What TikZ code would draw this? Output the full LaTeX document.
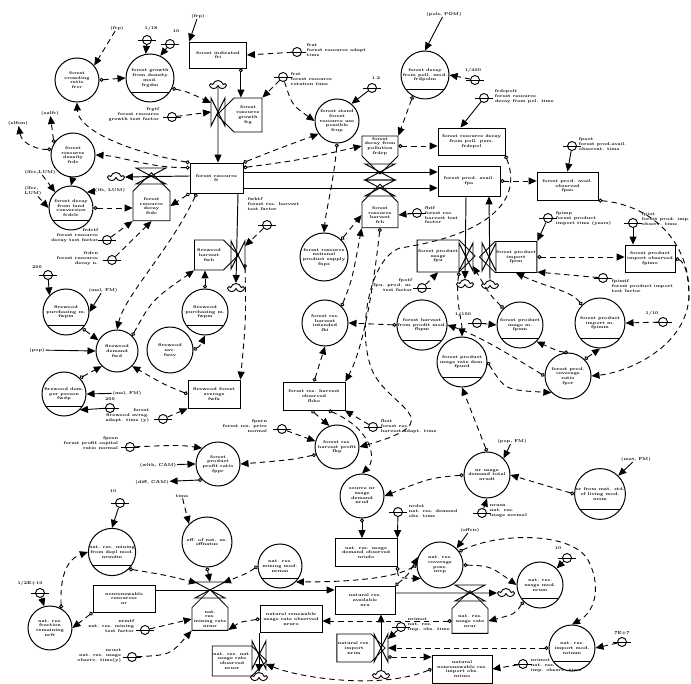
\documentclass[tikz,border=0pt]{standalone}
\usetikzlibrary{arrows.meta,shapes.symbols,shapes.geometric}
\newcommand{\sdfont}{\fontsize{4.2}{4.7}\selectfont\bfseries}
\begin{document}
\begin{tikzpicture}[x=1pt,y=-1pt,line width=0.9pt,
  aux/.style={circle,draw,line width=1.0pt,minimum size=#1,inner sep=0pt,align=center,font=\sdfont},
  aux/.default=46pt,
  tab/.style={aux=#1,path picture={\draw[line width=0.9pt]
      ([yshift=10pt]path picture bounding box.south west) -- ([yshift=10pt]path picture bounding box.south east);}},
  tab/.default=46pt,
  lev/.style={draw,rectangle,line width=0.8pt,align=center,font=\sdfont,inner sep=1pt},
  rate/.style={draw,signal,signal to=#1,line width=0.85pt,align=center,font=\sdfont,inner sep=1pt},
  con/.style={circle,draw,line width=0.9pt,minimum size=9pt,inner sep=0pt,
     append after command={([xshift=-4pt]\tikzlastnode.west) edge[line width=0.8pt,-] ([xshift=4pt]\tikzlastnode.east)}},
  ext/.style={font=\sdfont,inner sep=0.5pt},
  lblL/.style={ext,align=left,anchor=north west},
  lblR/.style={ext,align=right,anchor=north east},
  puff/.style={cloud,cloud puffs=5,draw,line width=0.9pt,minimum width=15pt,minimum height=9pt,inner sep=0pt},
  bigtip/.tip={Triangle[length=8pt,width=7pt]},
  opentip/.tip={Circle[open,length=4pt,width=4pt]},
  info/.style={dash pattern=on 5.5pt off 4pt,line width=0.9pt,-bigtip},
  infos/.style={info,opentip-bigtip},
  infoj/.style={dash pattern=on 5.5pt off 4pt,line width=0.9pt,opentip-},
  cin/.style={line width=0.9pt,-bigtip},
  cins/.style={line width=0.9pt,opentip-bigtip},
  flow/.style={line width=0.95pt,-bigtip},
  vlv/.style={line width=0.95pt,line join=miter},
  valveV/.pic={
    \draw[vlv] (-7,-14) -- (-7,14) -- (7,-14) -- (7,14) -- cycle;
    \coordinate (-c) at (0,0);
    \coordinate (-t) at (0,-14);
    \coordinate (-b) at (0,14);
    \coordinate (-l) at (-7,0);
    \coordinate (-r) at (7,0);
    \coordinate (-tl) at (-7,-9);
    \coordinate (-tr) at (7,-9);
    \coordinate (-bl) at (-7,9);
    \coordinate (-br) at (7,9);
  },
  valveH/.pic={
    \draw[vlv] (-15,-8) -- (15,-8) -- (-15,8) -- (15,8) -- cycle;
    \coordinate (-c) at (0,0);
    \coordinate (-t) at (0,-8);
    \coordinate (-b) at (0,8);
    \coordinate (-l) at (-9,0);
    \coordinate (-r) at (9,0);
    \coordinate (-tl) at (-13,-7);
    \coordinate (-tr) at (13,-7);
    \coordinate (-bl) at (-13,7);
    \coordinate (-br) at (13,7);
  }]
\useasboundingbox (0,0) rectangle (691,684);

% ================= forest resource sector =================
\node[ext] (frpA) at (117,28) {(frp)};
\node[aux=44pt] (frcr) at (77,80) {forest\\crowding\\ratio\\frcr};
\node[tab=48pt] (frgdm) at (150,78) {forest growth\\from density\\mod.\\frgdm};
\node[con] (k118) at (147,40) {};
\node[ext] (l118) at (151,28) {1/18};
\node[con] (k10a) at (170,44) {};
\node[ext] (l10a) at (176,31) {10};
\node[ext] (frpB) at (198,16) {(frp)};
\node[lev,minimum width=57pt,minimum height=26pt] (fri) at (218,55) {forest indicated\\fri};
\node[con] (kfrat) at (297,52) {};
\node[lblL] (lfrat) at (306,43) {frat\\forest resource adapt\\time};
\node[puff] (cl1) at (218,85) {};
\pic (vfrg) at (218,112) {valveV};
\node[rate=west,minimum width=45pt,minimum height=34pt] (frg) at (248,115) {forest\\resource\\growth\\frg};
\node[con] (kfrgtf) at (172,117) {};
\node[lblR] (lfrgtf) at (160,107) {frgtf\\forest resource\\growth test factor};
\node[con] (kfrst) at (283,77) {};
\node[lblL] (lfrst) at (290,72) {frst\\forest resource\\rotation time};
\node[aux=44pt] (frup) at (337,121) {forest stand\\forest\\resource use\\possible\\frup};
\node[con] (k12) at (372,88) {};
\node[ext] (l12) at (376,78) {1.2};
\node[ext] (pols) at (444,14) {(pols, POM)};
\node[tab=48pt] (frdpolm) at (425,75) {forest decay\\from poll. mod.\\frdpolm};
\node[con] (k1400) at (475,80) {};
\node[ext] (l1400) at (473,70) {1/400};
\node[con] (kfrdcpolt) at (484,98) {};
\node[lblL] (lfrdcpolt) at (494,89) {frdcpolt\\forest resource\\decay from pol. time};
\node[lev,minimum width=67pt,minimum height=27pt] (frdcpol) at (471.5,141.5) {forest resource decay\\from poll. pers.\\frdcpol};
\node[rate=south,minimum width=36pt,minimum height=36pt] (frdcp) at (380,146) {forest\\decay from\\pollution\\frdcp};
\node[lev,minimum width=53pt,minimum height=30pt] (fr) at (216.5,178) {forest resource\\fr};
\pic (vfrdcp) at (380,172) {valveH};
\pic (vfrh) at (380,188) {valveH};
\node[rate=north,minimum width=36pt,minimum height=38pt] (frh) at (380,215) {forest\\resource\\harvest\\frh};
\node[con] (kfhtf) at (417,213) {};
\node[lblL] (lfhtf) at (424,206) {fhtf\\forest res.\\harvest test\\factor};
\node[aux=48pt] (fnps) at (324,257) {forest resource\\national\\product supply\\fnps};
\node[lev,minimum width=62pt,minimum height=30pt] (fpa) at (469,181) {forest prod. avail.\\fpa};
\node[lev,minimum width=61pt,minimum height=28pt] (fpao) at (567.5,186) {forest prod. avail.\\observed\\fpao};
\node[con] (kfpaot) at (572,146) {};
\node[lblL] (lfpaot) at (578,137) {fpaot\\forest prod.avail.\\observat. time};

% product usage and import
\node[rate=east,minimum width=46pt,minimum height=32pt] (fpu) at (438,256) {forest product\\usage\\fpu};
\pic (vfpu) at (466,257) {valveV};
\node[puff] (clA) at (465,284) {};
\node[rate=west,minimum width=44pt,minimum height=31pt] (fpim) at (516,257) {forest product\\import\\fpim};
\pic (vfpim) at (489,257) {valveV};
\node[puff] (clB) at (490,285) {};
\node[con] (kfpimp) at (548,218) {};
\node[lblL] (lfpimp) at (555,211) {fpimp\\forest product\\import time (years)};
\node[con] (kfpiot) at (633,223) {};
\node[lblL] (lfpiot) at (641,212) {fpiot\\forest prod. imp.\\observ. time};
\node[lev,minimum width=50pt,minimum height=27pt] (fpimo) at (650,258.5) {forest product\\import observed\\fpimo};
\node[con] (kfpimtf) at (603,278) {};
\node[lblL] (lfpimtf) at (611,279) {fpimtf\\forest product import\\test factor};
\node[tab=50pt] (fpimm) at (600,323) {forest product\\import m.\\fpimm};
\node[con] (k110) at (663,322) {};
\node[ext] (l110) at (652,313) {1/10};
\node[tab=46pt] (fpum) at (520,325) {forest product\\usage m.\\fpum};
\node[con] (k1100) at (477,323) {};
\node[ext] (l1100) at (463,314) {1/100};
\node[tab=50pt] (fpurd) at (462,362) {forest product\\usage rate dem.\\fpurd};
\node[aux=46pt] (fpcr) at (568,376) {forest prod.\\coverage\\ratio\\fpcr};
\node[tab=48pt] (fhpm) at (422,325) {forest harvest\\from prodit mod.\\fhpm};
\node[con] (kfpotf) at (422,288) {};
\node[lblR] (lfpotf) at (413,278) {fpotf\\fpu. prod. m.\\test factor};
\node[aux=46pt] (fhi) at (325,323) {forest res.\\harvest\\intended\\fhi};
\node[lev,minimum width=62pt,minimum height=28pt] (fhho) at (314,396) {forest res. harvest\\observed\\fhho};
\node[aux=44pt] (fhp) at (337,447) {forest res.\\harvest profit\\fhp};
\node[con] (kfpnrn) at (282,429) {};
\node[lblR] (lfpnrn) at (268,419) {fpnrn\\forest res. price\\normal};
\node[con] (kfhat) at (373,427) {};
\node[lblL] (lfhat) at (380,419) {fhat\\forest res.\\harvest adapt. time};
\node[aux=44pt] (nrud) at (362,496) {source nr\\usage\\demand\\nrud};
\node[aux=46pt] (nrudt) at (487,475) {nr usage\\demand total\\nrudt};
\node[ext] (popfm) at (512,441) {(pop, FM)};
\node[tab=50pt] (nrsm) at (600,494) {nr from mat. std.\\of living mod.\\nrsm};
\node[ext] (matfm) at (636,459) {(mat, FM)};
\node[con] (knrusn) at (482,513) {};
\node[lblL] (lnrusn) at (489,504) {nrusn\\nat. res.\\usage normal};
\node[con] (knrdot) at (398,512) {};
\node[lblL] (lnrdot) at (408,504) {nrdot\\nat. res. demand\\obs. time};

% density, decay and firewood
\node[aux=44pt] (frdc) at (73,155) {forest\\resource\\density\\frdc};
\node[ext] (elfcm) at (18,123) {(elfcm)};
\node[ext] (ealfc) at (50,113) {(ealfc)};
\node[tab=44pt] (frdclc) at (71,208) {forest decay\\from land\\conversion\\frdclc};
\node[ext] (lfcc) at (40,172) {(lfcc,LUM)};
\node[ext,align=left] (bfcc) at (33,191) {(lfcc,\\LUM)};
\node[ext] (lfc) at (110,190) {(lfc, LUM)};
\node[rate=north,minimum width=37pt,minimum height=42pt] (frdcr) at (151.5,206) {forest\\resource\\decay\\frdc};
\pic (vfrdc) at (151,176) {valveH};
\node[puff] (clC) at (116,177) {};
\node[con] (kfrdctf) at (107,240) {};
\node[lblR] (lfrdctf) at (99,228) {frdctf\\forest resource\\decay test factor};
\node[con] (kfrdcn) at (112,260) {};
\node[lblR] (lfrdcn) at (99,251) {frdcn\\forest resource\\decay n.};
\node[rate=east,minimum width=44pt,minimum height=30pt] (fwh) at (209,255) {firewood\\harvest\\fwh};
\pic (vfwh) at (238,255) {valveV};
\node[puff] (clD) at (236,288) {};
\node[con] (kfwhtf) at (267,225) {};
\node[lblL] (lfwhtf) at (247,197) {fwhtf\\forest res. harvest\\test factor};
\node[con] (k200a) at (48,275) {};
\node[ext] (l200a) at (37,267) {200};
\node[tab=46pt] (fwpm1) at (66,312) {firewood\\purchasing m.\\fwpm};
\node[ext] (mal1) at (103,290) {(mal, FM)};
\node[tab=46pt] (fwpm2) at (205,312) {firewood\\purchasing m.\\fwpm};
\node[aux=42pt] (fwd) at (117,351) {firewood\\demand\\fwd};
\node[aux=46pt] (fwsv) at (170,350) {firewood\\sav.\\fwsv};
\node[ext] (pop) at (37,350) {(pop)};
\node[tab=44pt] (fwdp) at (64,394) {firewood dem.\\per person\\fwdp};
\node[ext] (mal2) at (127,393) {(mal, FM)};
\node[con] (k200b) at (110,408) {};
\node[ext] (l200b) at (110,399) {200};
\node[lev,minimum width=52pt,minimum height=28pt] (fwfa) at (214,394) {firewood forest\\average\\fwfa};
\node[con] (kffat) at (163,419) {};
\node[lblR] (lffat) at (150,408) {forest\\firewood avrag.\\adapt. time (y)};
\node[con] (kfpvan) at (130,447) {};
\node[lblR] (lfpvan) at (119,436) {fpvan\\forest profit capital\\ratio normal};
\node[aux=44pt] (fppr) at (218,464) {forest\\product\\profit ratio\\fppr};
\node[ext] (wlth) at (158,465) {(wlth, CAM)};
\node[ext] (dif) at (152,482) {(diff, CAM)};

% ================= natural resource sector =================
\node[con] (k10b) at (120,503) {};
\node[ext] (l10b) at (113,491) {10};
\node[ext] (time) at (182,496) {time};
\node[tab=46pt] (nrmdm) at (112,552) {nat. res. mining\\from depl mod.\\nrmdm};
\node[aux=50pt] (effnat) at (207,542) {eff. of nat. us.\\effnatus};
\node[con] (k2e10) at (40,593) {};
\node[ext] (l2e10) at (30,583) {1/2E+10};
\node[aux=44pt] (nrfr) at (50,628) {nat. res.\\fraction\\remaining\\nrfr};
\node[lev,minimum width=62pt,minimum height=27pt] (nr) at (124,598.5) {nonrenewable\\resources\\nr};
\pic (vnrmr) at (210,590) {valveH};
\node[rate=north,minimum width=36pt,minimum height=40pt] (nrmr) at (210,619) {nat.\\res.\\mining rate\\nrmr};
\node[con] (knrmtf) at (145,630) {};
\node[lblR] (lnrmtf) at (135,619) {nrmtf\\nat. res. mining\\test factor};
\node[con] (knruot) at (132,657) {};
\node[lblR] (lnruot) at (122,648) {nruot\\nat. res. usage\\observ. time(y)};
\node[tab=44pt] (nrmm) at (280,566) {nat. res.\\mining mod.\\nrmm};
\node[lev,minimum width=62pt,minimum height=28pt] (nrudo) at (366,552.5) {nat. res. usage\\demand observed\\nrudo};
\node[lev,minimum width=60pt,minimum height=28pt] (nra) at (365,600) {natural res.\\available\\nra};
\node[lev,minimum width=62pt,minimum height=27pt] (nruro) at (291,619) {natural renewable\\usage rate observed\\nruro};
\node[rate=east,minimum width=40pt,minimum height=30pt] (nrusr) at (232,661) {nat. res. nat.\\usage rate\\observed\\nrusr};
\pic (vnrusr) at (259,655) {valveV};
\node[puff] (clE) at (259,677) {};
\node[rate=east,minimum width=40pt,minimum height=28pt] (nrim) at (354,648) {natural res.\\import\\nrim};
\pic (vnrim) at (381,648) {valveV};
\node[puff] (clF) at (381,675) {};
\node[con] (knrimot) at (401,627) {};
\node[lblL] (lnrimot) at (407,617) {nrimot\\nat. res.\\imp. obs. time};
\node[lev,minimum width=60pt,minimum height=28pt] (nrimo) at (462,669) {natural\\nonrenewable res.\\import obs.\\nrimo};
\node[aux=46pt] (nrcp) at (440,565) {nat. res.\\coverage\\poss.\\nrcp};
\node[ext] (effcis) at (470,530) {(effcis)};
\node[rate=north,minimum width=36pt,minimum height=40pt] (nrur) at (470,621) {nat. res.\\usage rate\\nrur};
\pic (vnrur) at (470,593) {valveH};
\node[puff] (clG) at (506,593) {};
\node[tab=46pt] (nrum) at (540,585) {nat. res.\\usage mod.\\nrum};
\node[con] (k10c) at (567,558) {};
\node[ext] (l10c) at (558,548) {10};
\node[tab=46pt] (nrimm) at (572,648) {nat. res.\\import mod.\\nrimm};
\node[con] (k7e7) at (622,642) {};
\node[ext] (l7e7) at (622,633) {7E+7};
\node[con] (knrimot2) at (523,664) {};
\node[lblL] (lnrimot2) at (530,658) {nrimot\\nat. res.\\imp. observ. time};
\coordinate (fjoin) at (689,300);

% ================= flows =================
\draw[flow] (cl1) -- (fr.north -| cl1);
\draw[flow] (fr.east |- vfrdcp-c) -- (fpa.west |- vfrdcp-c);
\draw[flow] (fr.east |- vfrh-c) -- (fpa.west |- vfrh-c);
\draw[flow] (fpa.south -| vfpu-c) -- (clA.north);
\draw[flow] (clB.north) -- (fpa.south -| vfpim-c);
\draw[flow] (fr.west |- vfrdc-c) -- (clC.east);
\draw[flow] (fr.south -| vfwh-c) -- (clD.north);
\draw[flow] (nr.east |- vnrmr-c) -- (nra.west |- vnrmr-c);
\draw[flow] (nra.east |- vnrur-c) -- (clG.west);
\draw[flow] (clF.north) -- (nra.south -| vnrim-c);
\draw[flow] (nruro.south -| vnrusr-c) -- (clE.north);

% ================= information links: forest =================
\draw[info] (frpA) -- (frcr.40);
\draw[infos] (frcr.east) -- (frgdm.west);
\draw[cin] (k118) -- (frgdm.100);
\draw[cin] (k10a) -- (frgdm.65);
\draw[cin] (frpB) -- (fri.north west);
\draw[info] (kfrat) -- (fri.east);
\draw[infos] (frgdm.-25) .. controls (188,92) .. (vfrg-tl);
\draw[info] (kfrgtf) -- (vfrg-l);
\draw[cins] ([xshift=-6pt]fri.south east) -- ([xshift=-6pt]fri.south east |- frg.north);
\draw[info] (kfrst) -- (frg.north east);
\draw[info] (kfrst) .. controls (292,105) .. (frup.west);
\draw[cin] (k12) -- (frup.50);
\draw[infos] (fr.north east) .. controls (275,150) .. (frup.215);
\draw[infos] ([yshift=-5pt]fr.north east) .. controls (300,160) .. (frdcp.west);
\draw[infos] (frup.south) .. controls (334,180) and (326,210) .. (fnps.north);
\draw[cin] (pols) -- (frdpolm.north);
\draw[info] (k1400) -- (frdpolm.east);
\draw[infos] (frdpolm.240) -- (frdcp.north east);
\draw[cin] (kfrdcpolt) -- ([xshift=-11pt]frdcpol.north);
\draw[infos] (frdcp.east) -- (frdcpol.west |- frdcp.east);
\draw[info] (kfhtf) -- (frh.east);
\draw[infos] (fnps.north east) -- (frh.west);
\draw[infos] (fhi.north east) .. controls (352,280) .. (frh.south west);
\draw[infos] (frh.south) .. controls (372,300) and (362,350) .. (fhho.north east);
\draw[infos] (fhho.north) -- (fhi.south);
\draw[infos] (frdcpol.south east) .. controls (525,205) and (480,236) .. (400,248)
   .. controls (370,258) and (356,330) .. (372,370)
   .. controls (388,408) and (455,420) .. (fhp.east);
\draw[infos] (fpa.east) -- (fpao.west |- fpa.east);
\draw[cin] (kfpaot) -- (fpao.north);
\draw[infos] (fpao.south east) .. controls (650,205) and (690,240) .. (689,295)
   .. controls (688,345) and (630,372) .. (fpcr.east);
\draw[infoj] (fpimo.east) .. controls (686,262) and (689,280) .. (fjoin);
\draw[info] (kfpotf) -- (fpu.south);
\draw[infos] (fpum.north west) .. controls (490,295) .. (vfpu-br);
\draw[infos] (fpu.south east) .. controls (455,300) and (462,320) .. (fpurd.north);
\draw[infos] (fhpm.west) -- (fhi.east);
\draw[info] (k1100) -- (fpum.west);
\draw[cin] (kfpimp) -- (fpim.north east);
\draw[infos] (fpim.east) -- (fpimo.west |- fpim.east);
\draw[cin] (kfpiot) -- (fpimo.north -| kfpiot);
\draw[info] (kfpimtf) -- (fpim.south east);
\draw[infos] (fpimm.north west) .. controls (570,290) and (548,288) .. (fpim.south);
\draw[info] (k110) -- (fpimm.east);
\draw[infos] (fpcr.north) .. controls (560,352) .. (fpum.south east);
\draw[infos] (fpcr.north east) -- (fpimm.south);
\draw[infos] (fpurd.east) .. controls (505,390) .. (fpcr.south west);
\draw[infos] (fpcr.west) .. controls (515,358) and (480,336) .. (fhpm.east);
\draw[infos] (nrudt.north) -- (fpurd.south);
\draw[cin] (popfm) -- (nrudt.north east);
\draw[infos] (nrsm.west) -- (nrudt.east);
\draw[cin] (matfm) -- (nrsm.north east);
\draw[infos] (nrudt.west) .. controls (430,478) .. (nrud.east);
\draw[cin] (knrusn) -- (nrudt.south);
\draw[infos] (fhho.-100) -- (fhp.110);
\draw[infos] (fhho.-45) .. controls (374,430) and (376,460) .. (nrud.north);
\draw[info] (kfhat) -- (fhho.-25);
\draw[info] (kfpnrn) -- (fhp.165);
\draw[infos] (fhp.200) .. controls (290,460) .. (fppr.east);
\draw[info] (kfpvan) .. controls (180,445) .. (fppr.north west);
\draw[cin] (wlth) -- (fppr.west);
\draw[cins] (fppr.south west) -- (dif);

% density, decay, firewood links
\draw[infos] (fr.north west) .. controls (120,150) and (78,128) .. (frcr.south);
\draw[infos] ([yshift=-5pt]fr.north west) .. controls (150,168) and (120,156) .. (frdc.east);
\draw[infos] (frdc.165) .. controls (40,150) and (22,145) .. (elfcm);
\draw[infos] (frdc.148) -- (ealfc);
\draw[cins] (frdc.south) -- (frdclc.north);
\draw[info] (lfcc) -- (frdclc.north west);
\draw[info] (bfcc) -- (frdclc.west);
\draw[cin] (lfc) -- (frdclc.north east);
\draw[infos] (frdclc.east) -- (frdcr.west |- frdclc.east);
\draw[info] (kfrdctf) -- (frdcr.south west);
\draw[info] (kfrdcn) -- (frdcr.south);
\draw[infos] (fr.south west) -- (frdcr.east);
\draw[infos] ([xshift=7pt]fr.south west) .. controls (170,250) and (125,295) .. (fwd.north);
\draw[info] (kfwhtf) -- (vfwh-tr);
\draw[infos] (fwd.north east) .. controls (152,300) .. (fwh.south west);
\draw[infos] (fwpm2.north) -- (fwh.south -| fwpm2.north);
\draw[infos] (vfwh-br) .. controls (246,320) .. (fwfa.north east);
\draw[cin] (k200a) -- (fwpm1.north west);
\draw[cin] (mal1) -- (fwpm1.east);
\draw[infos] (fwpm1.south east) -- (fwd.150);
\draw[cin] (pop) -- (fwd.west);
\draw[infos] (fwdp.north east) -- (fwd.south west);
\draw[cin] (mal2) -- (fwdp.east);
\draw[cin] (k200b) -- (fwdp.south east);
\draw[infos] (fwfa.west) .. controls (165,385) .. (fwd.south east);
\draw[info] (kffat) -- (fwfa.south west);
\draw[infos] (fwsv.east) .. controls (200,346) .. (fwpm2.south);

% ================= information links: natural resources =================
\draw[cin] (k10b) -- (nrmdm.north);
\draw[info] (time) -- (effnat.north west);
\draw[cins] (effnat.south) -- (vnrmr-t);
\draw[infos] (nrmdm.south east) .. controls (165,575) .. (vnrmr-tl);
\draw[infos] (nrfr.60) .. controls (60,580) and (65,560) .. (nrmdm.west);
\draw[cin] (k2e10) -- (nrfr.105);
\draw[infos] (nr.south west) -- (nrfr.east);
\draw[info] (knrmtf) -- (nrmr.west);
\draw[info] (knruot) .. controls (170,655) .. (nrmr.south west);
\draw[infos] (nrmm.west) .. controls (250,572) .. (vnrmr-tr);
\draw[infos] (nrcp.west) .. controls (392,580) and (338,582) .. (nrmm.south east);
\draw[cins] (nrud.south) -- (nrudo.north -| nrud.south);
\draw[cin] (knrdot) -- (nrudo.north east);
\draw[infos] (nrudo.south east) .. controls (398,578) .. (nrcp.215);
\draw[infos] (nra.north east) .. controls (408,575) .. (nrcp.160);
\draw[cin] (effcis) -- (nrcp.north east);
\draw[infos] (nrcp.35) .. controls (500,532) and (572,532) .. (588,560)
   .. controls (600,582) and (598,610) .. (nrimm.north);
\draw[infos] (nrcp.east) .. controls (490,566) .. (nrum.west);
\draw[cin] (k10c) -- (nrum.north east);
\draw[infos] (nrum.south west) .. controls (515,614) .. (nrur.east);
\draw[infos] (nrur.west) -- (nruro.east |- nrur.west);
\draw[infos] (nruro.west) .. controls (240,622) .. (nrmr.south east);
\draw[infos] (nrimo.west) .. controls (380,690) and (300,678) .. (vnrusr-br);
\draw[info] (knrimot) -- (vnrim-tr);
\draw[infos] (nrimm.west) -- (vnrim-r);
\draw[infos] (vnrim-br) -- (nrimo.west |- vnrim-br);
\draw[info] (k7e7) -- (nrimm.east);
\draw[info] (knrimot2) -- (nrimo.east);
\end{tikzpicture}
\end{document}
